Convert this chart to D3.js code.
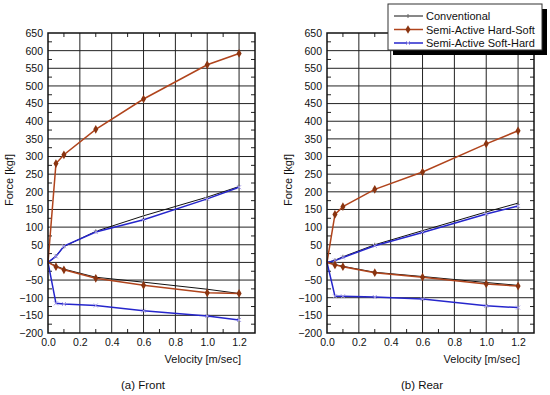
<!DOCTYPE html>
<html>
<head>
<meta charset="utf-8">
<script src="https://cdn.jsdelivr.net/npm/d3@7"></script>
<style>
  body { margin: 0; background: #fff; }
  svg { display: block; font-family: "Liberation Sans", Arial, sans-serif; }
</style>
</head>
<body>
<svg id="chart" width="550" height="395"></svg>
<script>
// velocities shared by every curve
var velocity = [0, 0.05, 0.1, 0.3, 0.6, 1.0, 1.2];

// front suspension
var frontConvPos = [0, 18, 45, 88, 132, 185, 215];
var frontConvNeg = [0, -10, -19, -42, -56, -76, -88];
var frontHardSoftPos = [0, 280, 305, 377, 463, 560, 592];
var frontHardSoftNeg = [0, -12, -21, -45, -65, -86, -88];
var frontSoftHardPos = [0, 17, 46, 86, 121, 180, 213];
var frontSoftHardNeg = [0, -116, -118, -122, -137, -152, -163];

// rear suspension
var rearConvPos = [0, 6, 16, 50, 90, 143, 168];
var rearConvNeg = [0, -6, -11, -28, -40, -57, -65];
var rearHardSoftPos = [0, 136, 158, 207, 256, 336, 373];
var rearHardSoftNeg = [0, -7, -12, -29, -42, -61, -67];
var rearSoftHardPos = [0, 5, 14, 47, 85, 137, 160];
var rearSoftHardNeg = [0, -96, -96, -98, -104, -123, -128];

var xTicks = [0, 0.2, 0.4, 0.6, 0.8, 1.0, 1.2];
var yTicks = [-200, -150, -100, -50, 0, 50, 100, 150, 200, 250, 300, 350, 400, 450, 500, 550, 600, 650];
var seriesNames = ["Conventional", "Semi-Active Hard-Soft", "Semi-Active Soft-Hard"];

var colConv = "#111", colHard = "#b0441c", colSoft = "#2626cc";

var svg = d3.select("#chart");

var panels = [
  { left: 48, caption: "(a) Front", cx: 143,
    series: [
      { v: frontConvPos, c: colConv, m: "bar" }, { v: frontConvNeg, c: colConv, m: "bar" },
      { v: frontSoftHardPos, c: colSoft, m: "x" }, { v: frontSoftHardNeg, c: colSoft, m: "x" },
      { v: frontHardSoftPos, c: colHard, m: "dia" }, { v: frontHardSoftNeg, c: colHard, m: "dia" }
    ] },
  { left: 327, caption: "(b) Rear", cx: 422,
    series: [
      { v: rearConvPos, c: colConv, m: "bar" }, { v: rearConvNeg, c: colConv, m: "bar" },
      { v: rearSoftHardPos, c: colSoft, m: "x" }, { v: rearSoftHardNeg, c: colSoft, m: "x" },
      { v: rearHardSoftPos, c: colHard, m: "dia" }, { v: rearHardSoftNeg, c: colHard, m: "dia" }
    ] }
];

var plotTop = 33, plotBottom = 333, plotW = 207;

function drawMarker(g, type, x, y, c) {
  if (type === "dia") {
    g.append("path")
      .attr("d", d3.symbol().type(d3.symbolDiamond).size(22)())
      .attr("transform", "translate(" + x + "," + y + ")")
      .attr("fill", "#8a3410");
  } else if (type === "x") {
    g.append("path")
      .attr("d", "M-2,-2L2,2M-2,2L2,-2")
      .attr("transform", "translate(" + x + "," + y + ")")
      .attr("stroke", "#a8a0e8").attr("stroke-width", 1);
  } else {
    g.append("line")
      .attr("x1", x).attr("x2", x).attr("y1", y - 2).attr("y2", y + 2)
      .attr("stroke", "#666").attr("stroke-width", 1);
  }
}

panels.forEach(function (p) {
  var x = d3.scaleLinear().domain([0, 1.3]).range([p.left, p.left + plotW]);
  var y = d3.scaleLinear().domain([-200, 650]).range([plotBottom, plotTop]);
  var g = svg.append("g");

  // grid
  g.selectAll(".vg").data(xTicks.slice(1)).enter().append("line")
    .attr("x1", function (d) { return x(d); }).attr("x2", function (d) { return x(d); })
    .attr("y1", plotTop).attr("y2", plotBottom)
    .attr("stroke", "#222").attr("stroke-width", 1);
  g.selectAll(".hg").data(yTicks.slice(1, -1)).enter().append("line")
    .attr("x1", p.left).attr("x2", p.left + plotW)
    .attr("y1", function (d) { return y(d); }).attr("y2", function (d) { return y(d); })
    .attr("stroke", "#222").attr("stroke-width", 1);

  // minor ticks, pointing in
  var minorX = d3.range(0.1, 1.3, 0.2);
  g.selectAll(".mxt").data(minorX).enter().append("line")
    .attr("x1", function (d) { return x(d); }).attr("x2", function (d) { return x(d); })
    .attr("y1", plotTop).attr("y2", plotTop + 4).attr("stroke", "#222");
  g.selectAll(".mxb").data(minorX).enter().append("line")
    .attr("x1", function (d) { return x(d); }).attr("x2", function (d) { return x(d); })
    .attr("y1", plotBottom).attr("y2", plotBottom - 4).attr("stroke", "#222");
  var minorY = d3.range(-175, 650, 50);
  g.selectAll(".myl").data(minorY).enter().append("line")
    .attr("x1", p.left).attr("x2", p.left + 4)
    .attr("y1", function (d) { return y(d); }).attr("y2", function (d) { return y(d); })
    .attr("stroke", "#222");
  g.selectAll(".myr").data(minorY).enter().append("line")
    .attr("x1", p.left + plotW).attr("x2", p.left + plotW - 4)
    .attr("y1", function (d) { return y(d); }).attr("y2", function (d) { return y(d); })
    .attr("stroke", "#222");

  // axes labels via d3 axes
  var xAxis = d3.axisBottom(x).tickValues(xTicks).tickFormat(d3.format(".1f")).tickSize(0).tickPadding(6);
  var yAxis = d3.axisLeft(y).tickValues(yTicks).tickSize(0).tickPadding(5);
  var xa = g.append("g").attr("transform", "translate(0," + plotBottom + ")").call(xAxis);
  var ya = g.append("g").attr("transform", "translate(" + p.left + ",0)").call(yAxis);
  [xa, ya].forEach(function (a) {
    a.select(".domain").remove();
    a.selectAll("text").attr("font-size", 10.5).attr("fill", "#111")
      .attr("font-family", "Liberation Sans, Arial, sans-serif");
  });

  // lines
  var line = d3.line()
    .x(function (d, i) { return x(velocity[i]); })
    .y(function (d) { return y(d); });
  p.series.forEach(function (s) {
    g.append("path").datum(s.v)
      .attr("d", line).attr("fill", "none")
      .attr("stroke", s.c).attr("stroke-width", s.m === "bar" ? 1 : 1.5);
    s.v.forEach(function (d, i) {
      if (i > 0) drawMarker(g, s.m, x(velocity[i]), y(d), s.c);
    });
  });

  // frame
  g.append("rect")
    .attr("x", p.left).attr("y", plotTop).attr("width", plotW).attr("height", plotBottom - plotTop)
    .attr("fill", "none").attr("stroke", "#111").attr("stroke-width", 1.5);

  // titles
  g.append("text")
    .attr("x", p.left + plotW - 14).attr("y", 363)
    .attr("text-anchor", "end").attr("font-size", 11).attr("fill", "#111")
    .text("Velocity [m/sec]");
  g.append("text")
    .attr("transform", "translate(" + (p.left - 35) + "," + 180 + ") rotate(-90)")
    .attr("text-anchor", "middle").attr("font-size", 11).attr("fill", "#111")
    .text("Force [kgf]");
  g.append("text")
    .attr("x", p.cx).attr("y", 389)
    .attr("text-anchor", "middle").attr("font-size", 11.5).attr("fill", "#111")
    .text(p.caption);
});

// legend with drop shadow
var lg = svg.append("g");
lg.append("rect").attr("x", 393).attr("y", 9).attr("width", 154).attr("height", 46).attr("fill", "#000");
lg.append("rect").attr("x", 388).attr("y", 4).attr("width", 154).attr("height", 46)
  .attr("fill", "#fff").attr("stroke", "#333").attr("stroke-width", 1);
var legCols = [colConv, colHard, colSoft];
var legMarks = ["bar", "dia", "x"];
seriesNames.forEach(function (name, i) {
  var ly = 16 + i * 13.5;
  lg.append("line").attr("x1", 394).attr("x2", 423).attr("y1", ly).attr("y2", ly)
    .attr("stroke", legCols[i]).attr("stroke-width", i === 0 ? 1 : 1.5);
  drawMarker(lg, legMarks[i], 408, ly, legCols[i]);
  lg.append("text").attr("x", 426).attr("y", ly + 4)
    .attr("font-size", 11).attr("fill", "#111").text(name);
});
</script>
</body>
</html>
